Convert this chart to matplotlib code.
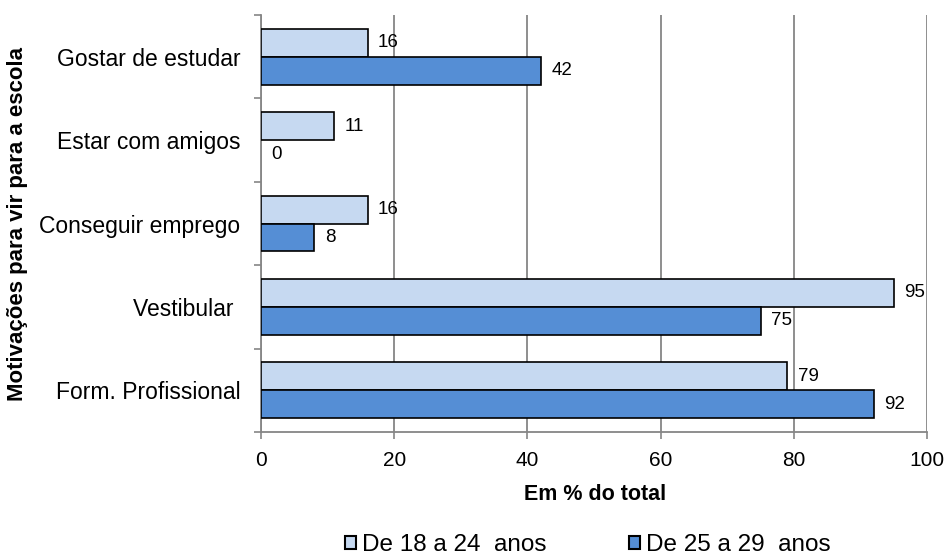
import numpy as np
import matplotlib
matplotlib.use('Agg')
import matplotlib.pyplot as plt
from matplotlib.patches import Patch

plt.rcParams['font.family'] = ['Liberation Sans', 'DejaVu Sans']

# motivations, top to bottom
categories = ['Gostar de estudar', 'Estar com amigos', 'Conseguir emprego',
              'Vestibular ', 'Form. Profissional']
age_18_24 = [16, 11, 16, 95, 79]
age_25_29 = [42, 0, 8, 75, 92]
series_names = ['De 18 a 24  anos', 'De 25 a 29  anos']
x_ticks = [0, 20, 40, 60, 80, 100]

light = '#c6d9f1'
dark = '#558ed5'
grey = '#868686'

fig = plt.figure(figsize=(9.49, 5.58), dpi=100)
ax = fig.add_axes([261 / 949, 1 - 432 / 558, 666 / 949, 417 / 558])

y = np.arange(len(categories))
h = 0.335


def edges(vals):
    # no outline on empty bars
    return ['black' if v > 0 else 'none' for v in vals]


ax.barh(y - h / 2, age_18_24, height=h, color=light, edgecolor=edges(age_18_24),
        linewidth=1.2, zorder=3)
ax.barh(y + h / 2, age_25_29, height=h, color=dark, edgecolor=edges(age_25_29),
        linewidth=1.2, zorder=3)

# value labels next to the bar ends
for yi, v in zip(y - h / 2, age_18_24):
    ax.annotate(str(v), (v, yi), xytext=(7.5, 0), textcoords='offset points',
                va='center', ha='left', fontsize=13.5)
for yi, v in zip(y + h / 2, age_25_29):
    ax.annotate(str(v), (v, yi), xytext=(7.5, 0), textcoords='offset points',
                va='center', ha='left', fontsize=13.5)

ax.set_xlim(0, 100)
ax.set_ylim(len(categories) - 0.5, -0.5)
ax.set_xticks(x_ticks)
ax.set_xticklabels([str(t) for t in x_ticks], fontsize=15)
ax.set_yticks(y)
ax.set_yticklabels(categories, fontsize=16.5)
ax.set_yticks(np.arange(len(categories) + 1) - 0.5, minor=True)

ax.tick_params(axis='y', which='major', length=0, pad=15)
ax.tick_params(axis='y', which='minor', length=5, color=grey, width=1.2, direction='out')
ax.tick_params(axis='x', length=5, color=grey, width=1.2, direction='out', pad=9)

ax.grid(axis='x', color=grey, linewidth=1.3, zorder=0)
for side in ['top', 'right']:
    ax.spines[side].set_visible(False)
for side in ['left', 'bottom']:
    ax.spines[side].set_color(grey)
    ax.spines[side].set_linewidth(1.3)

fig.text(595 / 949, 1 - 494 / 558, 'Em % do total', ha='center', va='center',
         fontsize=15.5, fontweight='bold')
fig.text(18 / 949, 1 - 224 / 558, 'Motivações para vir para a escola', ha='center',
         va='center', rotation=90, fontsize=16, fontweight='bold')

handles = [Patch(facecolor=light, edgecolor='black', linewidth=1.5),
           Patch(facecolor=dark, edgecolor='black', linewidth=1.5)]
fig.legend(handles, series_names, loc='center', bbox_to_anchor=(588 / 949, 1 - 545 / 558),
           ncol=2, frameon=False, fontsize=17.5, handlelength=0.45, handleheight=0.45,
           handletextpad=0.25, columnspacing=3.4)

fig.savefig('out.png', dpi=100)
